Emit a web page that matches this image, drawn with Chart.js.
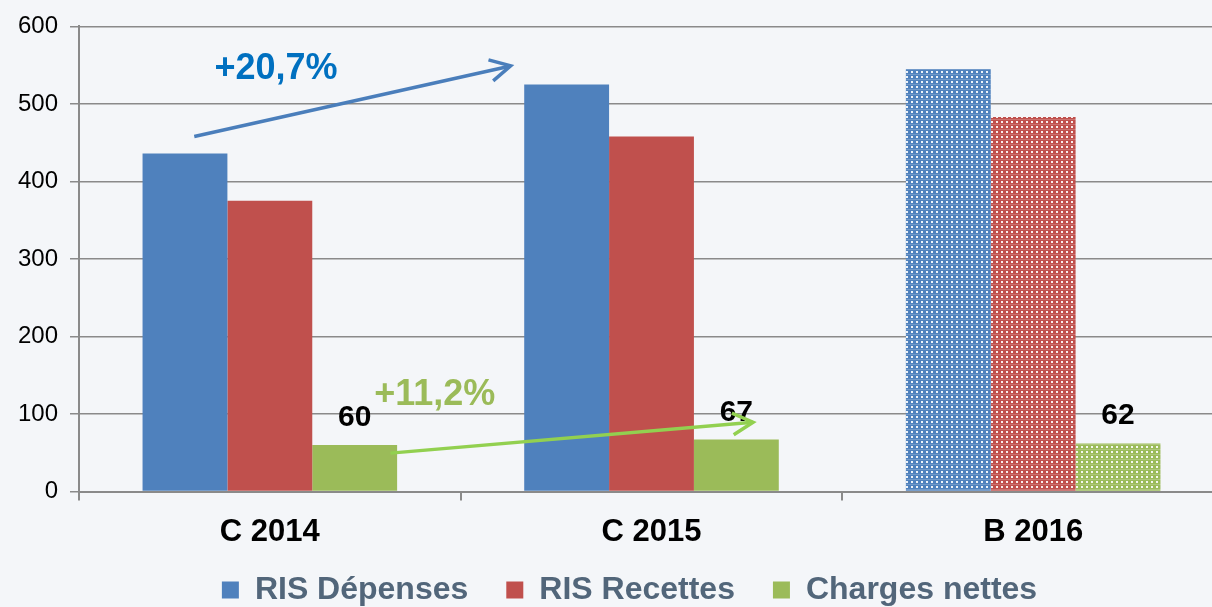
<!DOCTYPE html>
<html>
<head>
<meta charset="utf-8">
<script src="https://cdn.jsdelivr.net/npm/chart.js@4"></script>
<style>
  html, body { margin: 0; padding: 0; overflow: hidden; background: #f4f6f9; }
  #wrap { width: 1212px; height: 607px; overflow: hidden; }
</style>
</head>
<body>
<div id="wrap"><canvas id="chart" width="1224" height="607"></canvas></div>
<script>
// data
const categories = ["C 2014", "C 2015", "B 2016"];
const depenses = [436, 525, 545];
const recettes = [375, 458, 483];
const chargesNettes = [60, 67, 62];
const seriesNames = ["RIS Dépenses", "RIS Recettes", "Charges nettes"];
const growthLabels = ["+20,7%", "+11,2%"];

const FONT = "'Liberation Sans', Arial, sans-serif";
const colors = ["#4f81bd", "#c0504d", "#9bbb59"];
const LEGEND_PAD = 38;
const LEGEND_SIZE = 32;

// dotted pattern for the budget year (B 2016)
function makePattern(color) {
  const c = document.createElement("canvas");
  c.width = 5;
  c.height = 5;
  const g = c.getContext("2d");
  g.fillStyle = color;
  g.fillRect(0, 0, 5, 5);
  g.fillStyle = "rgba(255,255,255,0.9)";
  g.fillRect(1, 1, 2, 2);
  g.fillStyle = "rgba(255,255,255,0.2)";
  g.fillRect(0, 4, 5, 1);
  return g.createPattern(c, "repeat");
}

function fillFor(k) {
  const pat = makePattern(colors[k]);
  return (ctx) => (ctx.dataIndex === 2 ? pat : colors[k]);
}

// value labels above the green bars
const valueLabels = {
  id: "valueLabels",
  afterDatasetsDraw(chart) {
    const ctx = chart.ctx;
    const meta = chart.getDatasetMeta(2);
    ctx.save();
    ctx.font = "bold 30px " + FONT;
    ctx.fillStyle = "#000";
    ctx.textAlign = "center";
    ctx.textBaseline = "alphabetic";
    meta.data.forEach((bar, i) => {
      ctx.fillText(String(chargesNettes[i]), bar.x, bar.y - 19);
    });
    ctx.restore();
  },
};

// growth arrows + percentages
const growthArrows = {
  id: "growthArrows",
  afterDatasetsDraw(chart) {
    const xs = chart.scales.x;
    const ys = chart.scales.y;
    const step = xs.getPixelForValue(1) - xs.getPixelForValue(0);
    const px = (i) => xs.getPixelForValue(0) + i * step;
    const py = (v) => ys.getPixelForValue(v);
    const ctx = chart.ctx;

    const arrows = [
      { from: [-0.198, 458], to: [0.631, 549], color: "#4a7ebb", text: growthLabels[0], textAt: [0.016, 532], textColor: "#0070c0" },
      { from: [0.316, 49.5], to: [1.266, 89.4], color: "#92d050", text: growthLabels[1], textAt: [0.432, 111], textColor: "#9bbb59" },
    ];

    ctx.save();
    arrows.forEach((a) => {
      const x1 = px(a.from[0]), y1 = py(a.from[1]);
      const x2 = px(a.to[0]), y2 = py(a.to[1]);
      const back = Math.atan2(y1 - y2, x1 - x2);
      const hl = 23, ha = 28 * Math.PI / 180;
      ctx.strokeStyle = a.color;
      ctx.lineWidth = 3.5;
      ctx.beginPath();
      ctx.moveTo(x1, y1);
      ctx.lineTo(x2, y2);
      ctx.stroke();
      ctx.beginPath();
      ctx.moveTo(x2 + hl * Math.cos(back + ha), y2 + hl * Math.sin(back + ha));
      ctx.lineTo(x2, y2);
      ctx.lineTo(x2 + hl * Math.cos(back - ha), y2 + hl * Math.sin(back - ha));
      ctx.stroke();

      ctx.font = "bold 36px " + FONT;
      ctx.fillStyle = a.textColor;
      ctx.textAlign = "center";
      ctx.textBaseline = "alphabetic";
      ctx.fillText(a.text, px(a.textAt[0]), py(a.textAt[1]));
    });
    ctx.restore();
  },
};

// legend keeps wide item spacing but sits close to the bottom edge
const legendShift = {
  id: "legendShift",
  afterLayout(chart) {
    const l = chart.legend;
    if (!l) return;
    const shift = 590 - (l.top + LEGEND_PAD + LEGEND_SIZE / 2);
    l.top += shift;
    l.bottom = chart.height;
    l.height = l.bottom - l.top;
    l.left += 35;
    l.width = l.right - l.left;
  },
};

new Chart(document.getElementById("chart"), {
  type: "bar",
  data: {
    labels: categories,
    datasets: [
      { label: seriesNames[0], data: depenses, backgroundColor: fillFor(0) },
      { label: seriesNames[1], data: recettes, backgroundColor: fillFor(1) },
      { label: seriesNames[2], data: chargesNettes, backgroundColor: fillFor(2) },
    ],
  },
  options: {
    responsive: false,
    animation: false,
    layout: { padding: { top: 12, right: 0, left: 0, bottom: 0 } },
    datasets: {
      bar: { categoryPercentage: 0.667, barPercentage: 1, borderWidth: 0 },
    },
    scales: {
      x: {
        grid: {
          display: true,
          drawOnChartArea: false,
          drawTicks: true,
          tickLength: 9,
          color: "#8a8a8a",
          lineWidth: 2,
          offset: true,
        },
        border: { display: true, color: "#8a8a8a", width: 2 },
        ticks: {
          color: "#000",
          font: { family: FONT, size: 31, weight: "bold" },
          padding: 13,
        },
        afterFit: (s) => { s.height = 95.5; },
      },
      y: {
        min: 0,
        max: 600,
        ticks: {
          stepSize: 100,
          color: "#000",
          font: { family: FONT, size: 24 },
          padding: 12,
        },
        grid: { color: "#8a8a8a", lineWidth: 1.5, tickLength: 9 },
        border: { display: true, color: "#8a8a8a", width: 2 },
        afterFit: (s) => { s.width = 79; },
      },
    },
    plugins: {
      legend: {
        position: "bottom",
        maxHeight: 20,
        labels: {
          boxWidth: 17,
          boxHeight: 17,
          padding: LEGEND_PAD,
          color: "#52667a",
          font: { family: FONT, size: LEGEND_SIZE, weight: "bold" },
          generateLabels: (chart) =>
            chart.data.datasets.map((ds, i) => ({
              text: ds.label,
              fillStyle: colors[i],
              strokeStyle: colors[i],
              lineWidth: 0,
              fontColor: "#52667a",
              datasetIndex: i,
              hidden: false,
            })),
        },
      },
      tooltip: { enabled: false },
    },
  },
  plugins: [valueLabels, growthArrows, legendShift],
});
</script>
</body>
</html>
